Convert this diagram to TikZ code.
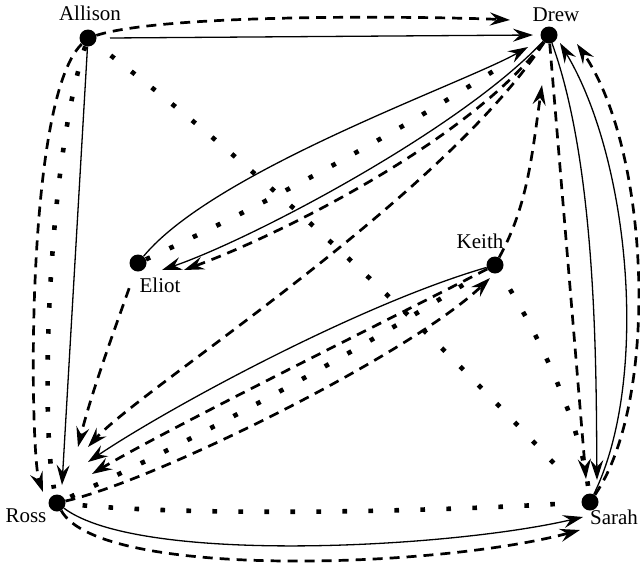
\documentclass[tikz,border=0pt]{standalone}
\usepackage{fontspec}
\setmainfont{Liberation Serif}
\usetikzlibrary{arrows.meta,calc}
\begin{document}
\begin{tikzpicture}[x=1pt,y=-1pt,
  dot/.style={circle,fill=black,inner sep=0pt,minimum size=17pt},
  lbl/.style={font=\fontsize{21}{23}\selectfont,inner sep=0pt,anchor=base},
  solidline/.style={line width=1.3pt},
  dashline/.style={line width=2.7pt,dash pattern=on 10pt off 7pt},
  dotline/.style={line width=4.6pt,dash pattern=on 4.6pt off 21.4pt},
  arr/.style={-{Stealth[length=20pt,width=13pt,inset=7pt]}},
]
\useasboundingbox (0,0) rectangle (640,568);
% people
\node[dot] (A) at (88,38) {};
\node[dot] (D) at (549,35) {};
\node[dot] (E) at (138,263) {};
\node[dot] (K) at (495,265) {};
\node[dot] (R) at (57,503) {};
\node[dot] (S) at (590,502) {};
\node[lbl] (Al) at (90,20) {Allison};
\node[lbl] (Dl) at (556,21) {Drew};
\node[lbl] (El) at (160,292) {Eliot};
\node[lbl] (Kl) at (480,248) {Keith};
\node[lbl] (Rl) at (26,522) {Ross};
\node[lbl] (Sl) at (614,524) {Sarah};
% Allison
\draw[dashline,arr] (A) .. controls (170,12) and (450,17) .. ($(D)+(-39,-15)$);
\draw[solidline,arr] ($(A)+(22,0)$) -- ($(D)+(-16,0)$);
\draw[solidline,arr] (A) -- ($(R)+(5,-18)$);
\draw[dashline,arr] (A) .. controls (24,100) and (30,455) .. ($(R)+(-14,-11)$);
\draw[dotline,shorten >=6pt] (A) .. controls (48,160) and (40,420) .. (R);
\draw[dotline,shorten <=20pt,shorten >=30pt] (A) .. controls (260,170) and (420,320) .. (S);
% Drew - Eliot
\draw[solidline,arr] (E) .. controls (215,170) and (465,83) .. ($(D)+(-21,12)$);
\draw[solidline,arr] (D) .. controls (460,130) and (250,240) .. ($(E)+(24,7)$);
\draw[dashline,arr] (D) .. controls (470,140) and (280,235) .. ($(E)+(46,7)$);
\draw[dotline,shorten >=45pt] (E) .. controls (275,200) and (412,124) .. (D);
% to Ross
\draw[dashline,arr] (D) .. controls (440,200) and (141.6,387.8) .. ($(R)+(31,-56)$);
\draw[dashline,arr,shorten <=18pt] (E) .. controls (118,320) and (92,390) .. ($(R)+(21,-56)$);
% Keith
\draw[solidline,arr] (K) .. controls (357,305) and (165,410) .. ($(R)+(31,-41)$);
\draw[dashline,arr] (K) .. controls (398,315) and (165,430) .. ($(R)+(35,-29)$);
\draw[dashline,arr] (R) .. controls (157,480) and (410.8,353.9) .. ($(K)+(-5,13)$);
\draw[dotline,shorten <=6pt,shorten >=22pt] (R) .. controls (203,436) and (349,356) .. (K);
\draw[dotline,shorten <=20pt,shorten >=6pt] (K) .. controls (535,330) and (580,420) .. (S);
\draw[dashline,arr] (K) .. controls (528,205) and (532,154) .. ($(D)+(-7,50)$);
% Drew - Sarah
\draw[dashline,arr] (D) -- ($(S)+(-4,-23)$);
\draw[solidline,arr] (D) .. controls (598,170) and (596,380) .. ($(S)+(7,-22)$);
\draw[solidline,arr] (S) .. controls (650,380) and (630,160) .. ($(D)+(11,8)$);
\draw[dashline,arr] (S) .. controls (660,400) and (650,150) .. ($(D)+(28,9)$);
% Ross - Sarah
\draw[solidline,arr] (R) .. controls (140,565) and (450,548) .. ($(S)+(-7,15)$);
\draw[dashline,arr] (R) .. controls (100,580) and (440,568) .. ($(S)+(-10,28)$);
\draw[dotline,shorten <=17pt,shorten >=20pt] (R) .. controls (200,516) and (420,512) .. (S);
\end{tikzpicture}
\end{document}
